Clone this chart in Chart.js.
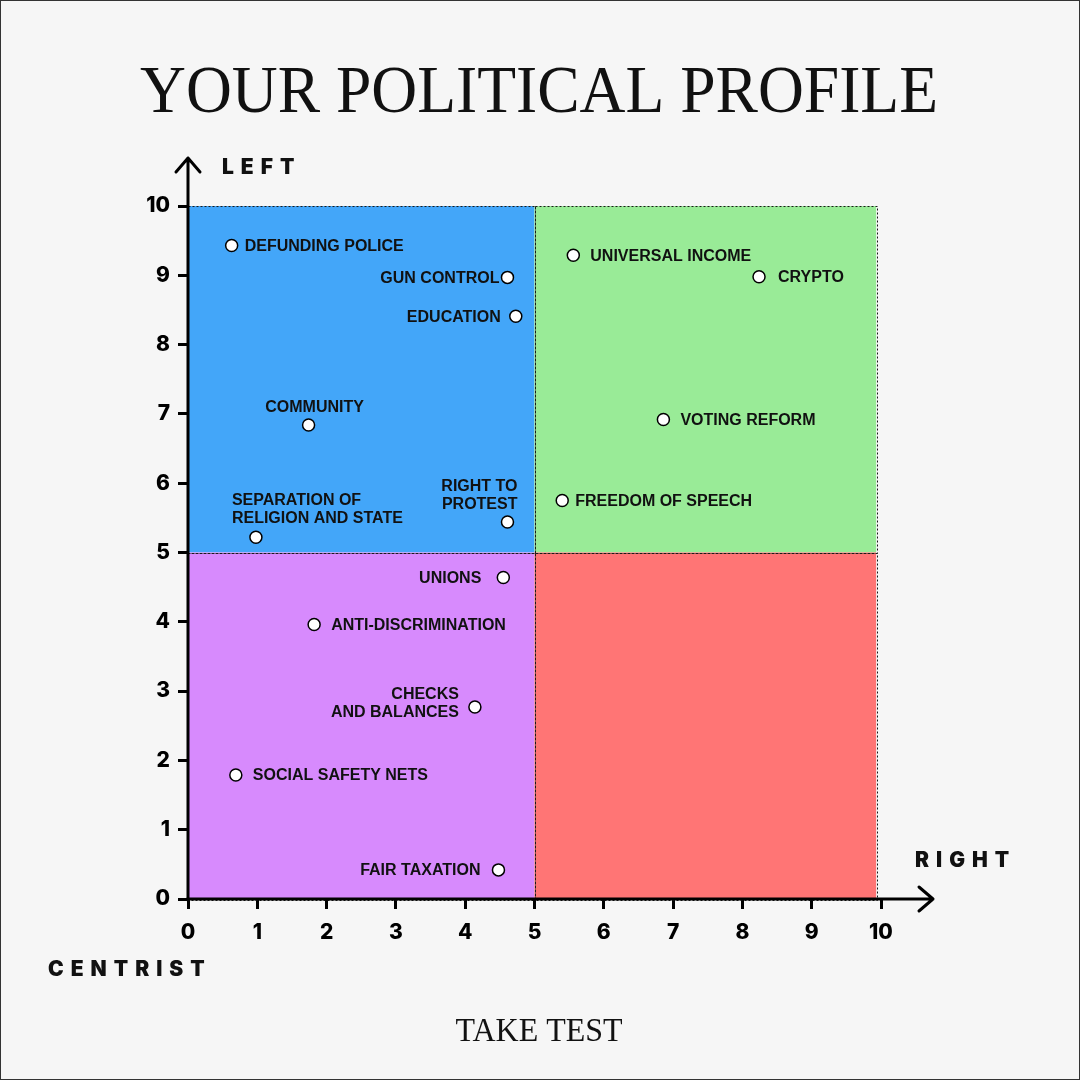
<!DOCTYPE html>
<html>
<head>
<meta charset="utf-8">
<title>Your Political Profile</title>
<script src="https://cdn.jsdelivr.net/npm/chart.js@4.4.1/dist/chart.umd.min.js"></script>
<style>
  body { margin: 0; background: #f6f6f6; }
  #wrap { width: 1080px; height: 1080px; }
</style>
</head>
<body>
<div id="wrap"><canvas id="profile" width="1080" height="1080"></canvas></div>
<script>
// topics and where they sit: x = right score, y = left score
var topics = [
  "DEFUNDING POLICE", "GUN CONTROL", "EDUCATION", "UNIVERSAL INCOME", "CRYPTO",
  "VOTING REFORM", "FREEDOM OF SPEECH", "COMMUNITY", "SEPARATION OF\nRELIGION AND STATE",
  "RIGHT TO\nPROTEST", "UNIONS", "ANTI-DISCRIMINATION", "CHECKS\nAND BALANCES",
  "SOCIAL SAFETY NETS", "FAIR TAXATION"
];
var rightScore = [0.63, 4.61, 4.73, 5.56, 8.24, 6.86, 5.40, 1.74, 0.98, 4.61, 4.55, 1.82, 4.14, 0.69, 4.48];
var leftScore  = [9.43, 8.97, 8.41, 9.29, 8.98, 6.92, 5.75, 6.84, 5.22, 5.44, 4.64, 3.96, 2.77, 1.79, 0.42];

var tickValues = [0, 1, 2, 3, 4, 5, 6, 7, 8, 9, 10];

// quadrants: [xFrom, xTo, yFrom, yTo]
var quadrants = [[0, 5, 5, 10], [5, 9.93, 5, 10], [0, 5, 0, 5], [5, 9.93, 0, 5]];
var quadColors = ["#43a6f9", "#99eb97", "#d78afd", "#ff7575"];

// label placement: [textAlign, dx, dy of last line]
var labelPos = [
  ["left", 13, 0], ["right", -8, 0], ["right", -15, 0], ["left", 17, 0], ["left", 19, 0],
  ["left", 17, 0], ["left", 13, 0], ["center", 6, -18], ["left", -24, -20],
  ["right", 10, -18], ["right", -22, 0], ["left", 17, 0], ["right", -16, 5],
  ["left", 17, 0], ["right", -18, 0]
];

var points = rightScore.map(function(v, i) { return {x: v, y: leftScore[i]}; });

function fitText(ctx, txt, x, y, w) {
  var m = ctx.measureText(txt).width;
  ctx.save();
  ctx.translate(x, y);
  ctx.scale(w / m, 1);
  ctx.textAlign = "center";
  ctx.fillText(txt, 0, 0);
  ctx.restore();
}

var decor = {
  id: "decor",
  beforeDraw: function(chart) {
    var c = chart.ctx;
    c.save();
    c.fillStyle = "#f6f6f6";
    c.fillRect(0, 0, chart.width, chart.height);
    c.strokeStyle = "#333";
    c.lineWidth = 1;
    c.strokeRect(0.5, 0.5, chart.width - 1, chart.height - 1);

    c.fillStyle = "#111";
    c.textBaseline = "alphabetic";
    c.font = "68px 'Liberation Serif'";
    fitText(c, "YOUR POLITICAL PROFILE", 539, 112, 798);
    c.font = "34px 'Liberation Serif'";
    fitText(c, "TAKE TEST", 539, 1041, 167);

    c.font = "900 21px Inter";
    c.letterSpacing = "7px";
    c.textAlign = "left";
    c.textBaseline = "middle";
    c.fillText("LEFT", 222, 168);
    c.fillText("RIGHT", 915, 861);
    c.fillText("CENTRIST", 48, 970);
    c.restore();
  },
  beforeDatasetsDraw: function(chart) {
    var c = chart.ctx, xs = chart.scales.x, ys = chart.scales.y;
    c.save();
    quadrants.forEach(function(q, i) {
      var x0 = xs.getPixelForValue(q[0]), x1 = xs.getPixelForValue(q[1]);
      var y0 = ys.getPixelForValue(q[3]), y1 = ys.getPixelForValue(q[2]);
      c.fillStyle = quadColors[i];
      c.fillRect(x0, y0, x1 - x0, y1 - y0);
    });
    c.strokeStyle = "#1a1a1a";
    c.lineWidth = 1;
    c.setLineDash([2, 2]);
    quadrants.forEach(function(q) {
      var x0 = xs.getPixelForValue(q[0]), x1 = xs.getPixelForValue(q[1]);
      var y0 = ys.getPixelForValue(q[3]), y1 = ys.getPixelForValue(q[2]);
      c.strokeRect(Math.round(x0) + 0.5, Math.round(y0) + 0.5, Math.round(x1 - x0), Math.round(y1 - y0));
    });
    c.setLineDash([]);

    // axes with arrows
    var ox = xs.getPixelForValue(0), oy = ys.getPixelForValue(0);
    var topY = ys.getPixelForValue(10) - 48, rightX = xs.getPixelForValue(10) + 52;
    c.strokeStyle = "#000";
    c.lineWidth = 3;
    c.lineCap = "round";
    c.lineJoin = "round";
    c.beginPath();
    c.moveTo(ox, oy + 1);
    c.lineTo(ox, topY);
    c.moveTo(ox - 1, oy);
    c.lineTo(rightX, oy);
    c.moveTo(ox - 12, topY + 14);
    c.lineTo(ox, topY);
    c.lineTo(ox + 12, topY + 14);
    c.moveTo(rightX - 14, oy - 12);
    c.lineTo(rightX, oy);
    c.lineTo(rightX - 14, oy + 12);
    c.stroke();
    c.restore();
  },
  afterDatasetsDraw: function(chart) {
    var c = chart.ctx, xs = chart.scales.x, ys = chart.scales.y;
    c.save();
    c.fillStyle = "#111";
    c.font = "bold 16px 'Liberation Sans'";
    c.textBaseline = "middle";
    topics.forEach(function(t, i) {
      var px = xs.getPixelForValue(rightScore[i]), py = ys.getPixelForValue(leftScore[i]);
      var p = labelPos[i];
      var lines = t.split("\n");
      c.textAlign = p[0];
      lines.forEach(function(line, k) {
        var y = py + p[2] - (lines.length - 1 - k) * 18;
        c.fillText(line, px + p[1], y + 1);
      });
    });
    c.restore();
  }
};

var tickFont = {family: "Inter", weight: "800", size: 21};

var ctx = document.getElementById("profile").getContext("2d");
var chart = new Chart(ctx, {
  type: "scatter",
  data: {
    datasets: [{
      label: "Topics",
      data: points,
      pointRadius: 6,
      pointBackgroundColor: "#ffffff",
      pointBorderColor: "#000000",
      pointBorderWidth: 1.5
    }]
  },
  plugins: [decor],
  options: {
    responsive: false,
    animation: false,
    devicePixelRatio: 1,
    layout: { padding: { left: 128, right: 199, top: 206, bottom: 121 } },
    plugins: { legend: { display: false }, tooltip: { enabled: false } },
    scales: {
      x: {
        type: "linear", min: 0, max: 10,
        afterBuildTicks: function(s) { s.ticks = tickValues.map(function(v) { return {value: v}; }); },
        afterFit: function(s) { s.height = 60; },
        ticks: { color: "#000", font: tickFont, padding: 11 },
        grid: { drawOnChartArea: false, drawTicks: true, tickLength: 10, tickColor: "#000", tickWidth: 3 },
        border: { display: false }
      },
      y: {
        type: "linear", min: 0, max: 10,
        afterBuildTicks: function(s) { s.ticks = tickValues.map(function(v) { return {value: v}; }); },
        afterFit: function(s) { s.width = 60; },
        ticks: { color: "#000", font: tickFont, padding: 8 },
        grid: { drawOnChartArea: false, drawTicks: true, tickLength: 10, tickColor: "#000", tickWidth: 3 },
        border: { display: false }
      }
    }
  }
});
</script>
</body>
</html>
